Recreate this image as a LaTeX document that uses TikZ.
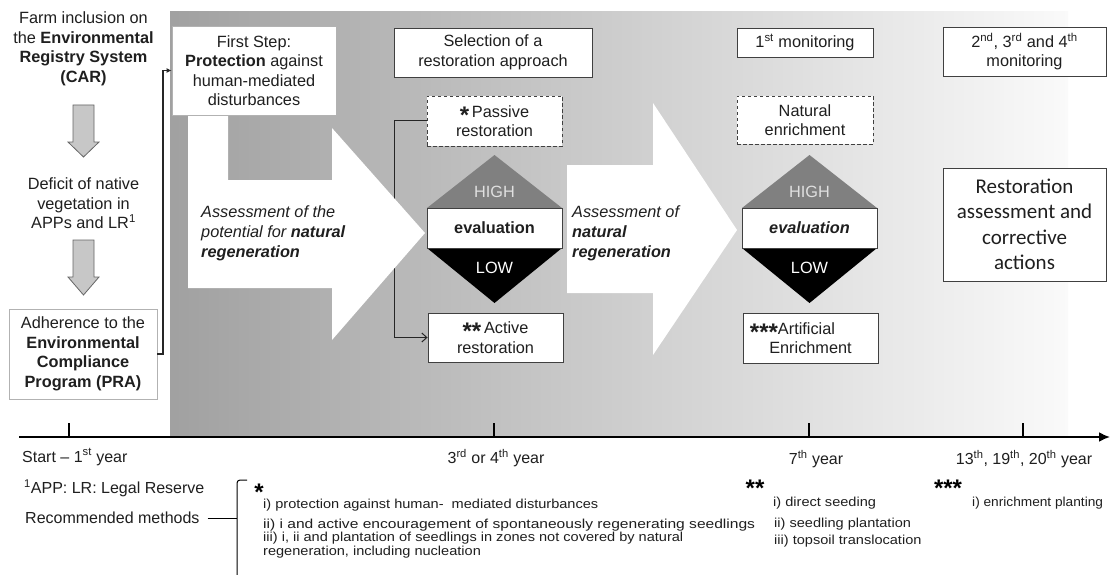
\documentclass[tikz,border=0pt]{standalone}
\usepackage{fontspec}
\setmainfont{Liberation Sans}
\newfontfamily\calib{Carlito}
\newfontfamily\legf[FakeStretch=1.12]{Liberation Sans}
\usetikzlibrary{arrows.meta}
\pgfdeclarelayer{bg}
\pgfsetlayers{bg,main}
\newcommand\bigstr{{\bfseries\fontsize{24}{0}\selectfont\raisebox{-6pt}[0pt][0pt]{*}}}
\begin{document}
\begin{tikzpicture}[x=1pt,y=-1pt]
\tikzset{
 mtxt/.style={font=\fontsize{16.3}{19.5}\selectfont, text=black!88, align=center, inner sep=0pt},
 wbox/.style={mtxt, draw=black!75, fill=white, line width=0.9pt},
 lbox/.style={mtxt, draw=black!30, fill=white, line width=0.8pt},
 dbox/.style={wbox, dash pattern=on 3.5pt off 2.5pt},
 conn/.style={draw=black!85, line width=1.1pt},
 legtxt/.style={font=\legf\fontsize{13}{13}\selectfont, anchor=west, inner sep=0pt, text=black!88},
 axtxt/.style={font=\fontsize{16}{19}\selectfont, inner sep=0pt, text=black!88},
 itxt/.style={mtxt, font=\itshape\fontsize{16.3}{20}\selectfont, align=left, anchor=west},
 downarrow/.style={fill=black!22, draw=black!60, line width=0.8pt},
 hl/.style={mtxt, text=black!12},
 lw/.style={mtxt, text=white},
}
\useasboundingbox (0,0) rectangle (1110,575);

% ---- left column ----
\node[mtxt] (car) at (83.5,49) {Farm inclusion on\\the \textbf{Environmental}\\\textbf{Registry System}\\\textbf{(CAR)}};
\filldraw[downarrow] (73,105) -- (94,105) -- (94,142) -- (99,142) -- (83.5,157) -- (68,142) -- (73,142) -- cycle;
\node[mtxt] (deficit) at (83.5,203.5) {Deficit of native\\vegetation in\\APPs and LR\textsuperscript{1}};
\filldraw[downarrow] (73,240) -- (94,240) -- (94,277) -- (99,277) -- (83.5,295) -- (68,277) -- (73,277) -- cycle;
\node[lbox, minimum width=148pt, minimum height=90pt] (pra) at (83,354) {Adherence to the\\\textbf{Environmental}\\\textbf{Compliance}\\\textbf{Program (PRA)}};

% ---- boxes ----
\node[lbox, minimum width=164pt, minimum height=89pt] (first) at (254,70.5) {First Step:\\\textbf{Protection} against\\human-mediated\\disturbances};
\node[wbox, minimum width=198pt, minimum height=49pt] (sel) at (493,52.5) {Selection of a\\restoration approach};
\node[dbox, minimum width=135pt, minimum height=50pt] (passive) at (494.5,121) {\bigstr\,Passive\\restoration};
\node[wbox, minimum width=135pt, minimum height=49pt] (active) at (495.5,337.5) {\bigstr\bigstr\,Active\\restoration};
\node[wbox, minimum width=136pt, minimum height=29pt] (mon1) at (805,42.5) {1\textsuperscript{st} monitoring};
\node[dbox, minimum width=136pt, minimum height=48pt] (natural) at (805,120) {Natural\\enrichment};
\node[wbox, minimum width=135pt, minimum height=50pt] (artif) at (810.5,338) {\hspace*{-36pt}\bigstr\bigstr\bigstr Artificial\\Enrichment};
\node[wbox, minimum width=163pt, minimum height=49pt] (mon2) at (1024.5,51.5) {2\textsuperscript{nd}, 3\textsuperscript{rd} and 4\textsuperscript{th}\\monitoring};
\node[wbox, minimum width=163pt, minimum height=113pt, font=\calib\fontsize{21}{25.5}\selectfont] (restor) at (1024.5,224.5) {Restoration\\assessment and\\corrective\\actions};

% ---- diamonds ----
\fill[black!50] (427,208) -- (494.5,155) -- (562,208) -- cycle;
\fill[black] (427,248) -- (494.5,303) -- (562,248) -- cycle;
\node[wbox, minimum width=135pt, minimum height=40pt, font=\bfseries\fontsize{16.3}{19.5}\selectfont] (ev1) at (494.5,228) {evaluation};
\node[hl] (high1) at (494.5,192) {HIGH};
\node[lw] (low1) at (494.5,268) {LOW};

\fill[black!50] (742,208) -- (809.5,155) -- (877,208) -- cycle;
\fill[black] (742,248) -- (809.5,303) -- (877,248) -- cycle;
\node[wbox, minimum width=135pt, minimum height=40pt, font=\bfseries\itshape\fontsize{16.3}{19.5}\selectfont] (ev2) at (809.5,228) {evaluation};
\node[hl] (high2) at (809.5,192) {HIGH};
\node[lw] (low2) at (809.5,268) {LOW};

% ---- arrow texts ----
\node[itxt] (asm1) at (201,233) {Assessment of the\\potential for \textbf{natural}\\\textbf{regeneration}};
\node[itxt] (asm2) at (572,233) {Assessment of\\\textbf{natural}\\\textbf{regeneration}};

% ---- background layer ----
\begin{pgfonlayer}{bg}
\fill[white] (0,0) rectangle (1110,575);
\shade[left color=black!37, right color=black!2] (170,12) rectangle (1068,437);
\coordinate (bk) at (394,0);
\draw[conn, line width=1pt] (passive.west) -- (passive.west -| bk) -- (active.west -| bk);
\draw[conn, line width=1pt, -{Straight Barb[length=5pt,width=9pt]}] (active.west -| bk) -- (active.west);
\fill[white] (188,115) -- (228,115) -- (228,180) -- (332,180) -- (332,128) -- (425,233)
  -- (332,340) -- (332,288) -- (188,288) -- cycle;
\fill[white] (567,165) -- (653,165) -- (653,103) -- (737,230) -- (653,355) -- (653,293)
  -- (567,293) -- cycle;
\end{pgfonlayer}

% ---- PRA connector ----
\coordinate (prax) at (163,0);
\draw[conn, -{Latex[length=5pt,width=5pt]}] (pra.east) -- (pra.east -| prax) -- (first.west -| prax) -- (first.west);

% ---- timeline ----
\coordinate (ax0) at (19,437);
\coordinate (ax1) at (1110,437);
\draw[line width=2pt, -{Latex[length=11pt,width=10pt]}] (ax0) -- (ax1);
\foreach \t in {69,494,809,1023} \draw[line width=1.5pt] (\t,437) -- (\t,423);
\node[axtxt, anchor=west] (l1) at (22,457) {Start – 1\textsuperscript{st} year};
\node[axtxt] (l2) at (496,458) {3\textsuperscript{rd} or 4\textsuperscript{th} year};
\node[axtxt] (l3) at (816,459) {7\textsuperscript{th} year};
\node[axtxt] (l4) at (1024,459) {13\textsuperscript{th}, 19\textsuperscript{th}, 20\textsuperscript{th} year};

% ---- legend ----
\node[axtxt, anchor=west] (app) at (24,488) {\textsuperscript{1}APP: LR: Legal Reserve};
\node[axtxt, anchor=west] (rec) at (25,518) {Recommended methods};
\coordinate (brx) at (237,518);
\draw[line width=1pt] (rec.east) ++(8,0) -- (brx);
\draw[line width=1pt, rounded corners=3pt] (247,480) -- (237,480) -- (237,576);
\node[inner sep=0pt] (s1) at (259,494) {\bigstr};
\node[legtxt] (m1) at (263,505) {i) protection against human-~ mediated disturbances};
\node[legtxt] (m2) at (263,525) {\scalebox{1.07}[1]{ii) i and active encouragement of spontaneously regenerating seedlings}};
\node[legtxt] (m3) at (263,538) {iii) i, ii and plantation of seedlings in zones not covered by natural};
\node[legtxt] (m4) at (263,552) {regeneration, including nucleation};
\node[inner sep=0pt] (s2) at (755,490) {\bigstr\bigstr};
\node[legtxt] (d1) at (773,503) {i) direct seeding};
\node[legtxt] (d2) at (774,524) {ii) seedling plantation};
\node[legtxt] (d3) at (774,541) {iii) topsoil translocation};
\node[inner sep=0pt] (s3) at (948,490) {\bigstr\bigstr\bigstr};
\node[legtxt] (e1) at (972,503) {\scalebox{0.94}[1]{i) enrichment planting}};
\end{tikzpicture}
\end{document}
